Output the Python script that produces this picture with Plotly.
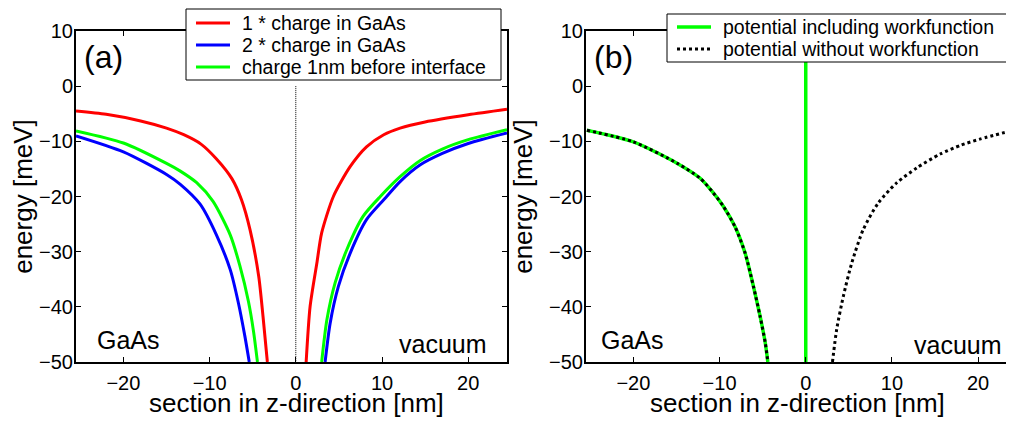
import plotly.graph_objects as go

# ---------------- data (panel a) ----------------
red_left_x = [-25.5, -22, -18, -15, -13, -11, -9.2, -7.4, -6.3, -5.3, -4.3, -3.8, -3.3]
red_left_y = [-4.5, -5.1, -6.3, -7.6, -8.8, -10.5, -13.2, -16.8, -20.6, -26.1, -34.5, -41.8, -50]
red_right_x = [1.2, 1.66, 2.44, 3.0, 4.36, 6.3, 8.2, 10.2, 12.1, 15, 20, 24.5]
red_right_y = [-50, -39.9, -32.1, -26.6, -20.0, -14.6, -11.0, -8.8, -7.6, -6.5, -5.2, -4.2]

blue_left_x = [-25.5, -20, -15, -13.4, -11.1, -9.2, -7.6, -6.66, -5.9, -5.4]
blue_left_y = [-9.0, -11.9, -16.0, -17.8, -21.4, -27.0, -33.3, -39.3, -45.4, -50]
blue_right_x = [3.4, 3.98, 4.94, 6.3, 8.2, 10.2, 12.1, 14.4, 17, 20, 24.5]
blue_right_y = [-50, -43.0, -36.3, -30.3, -24.2, -20.6, -17.3, -14.3, -12.2, -10.4, -8.5]

green_left_x = [-25.5, -20, -15, -13.4, -11.5, -9.6, -7.6, -6.5, -5.5, -4.9, -4.45]
green_left_y = [-8.1, -10.3, -14.0, -15.4, -17.5, -20.9, -27.0, -32.5, -39.0, -44.5, -50]
green_right_x = [3.0, 3.6, 4.55, 5.9, 7.8, 9.8, 12.1, 14.4, 17, 20, 24.5]
green_right_y = [-50, -42.4, -35.7, -29.7, -23.6, -20.0, -16.4, -13.5, -11.4, -9.7, -7.9]

interface_x = [0, 0]
interface_y = [0, -50]

# ---------------- data (panel b) ----------------
wf_left_x = [-25.4, -20, -14.9, -12.25, -10.7, -9.55, -8.2, -7.03, -6.07, -5.3, -4.7, -4.4]
wf_left_y = [-8.0, -10.1, -14.0, -16.7, -19.4, -21.8, -25.5, -30.3, -36.3, -41.7, -46.5, -50]
wf_step_x = [0, 0]
wf_step_y = [-60, 60]
nowf_right_x = [3.1, 3.6, 4.36, 5.33, 6.67, 8.4, 10.5, 12.9, 15.6, 18, 20.2, 24.05]
nowf_right_y = [-50, -44.0, -38.1, -32.1, -26.0, -21.2, -17.6, -14.8, -12.3, -10.7, -9.6, -8.0]

x_ticks = [-20, -10, 0, 10, 20]
y_ticks = [-50, -40, -30, -20, -10, 0, 10]

legend_a_names = ["1 * charge in GaAs", "2 * charge in GaAs", "charge 1nm before interface"]
legend_b_names = ["potential including workfunction", "potential without workfunction"]

FONT = "Liberation Sans, Arial, sans-serif"
RED, BLUE, GREEN = "#ff0000", "#0000ff", "#00ff00"

# The page body has an 8px default margin: the figure is laid out in screen
# pixels and shifted back by that offset.
OFF = 8
W, H = 1014 - OFF, 421 - OFF
ml = 76 - OFF
mt = 31 - OFF
mb = H - (362 - OFF)
mr = W - (1013 - OFF)
pw = W - ml - mr
ph = H - mt - mb


def px_x(p):  # screen pixel -> paper x
    return (p - OFF - ml) / pw


def px_y(p):  # screen pixel -> paper y
    return (H - mb - (p - OFF)) / ph


fig = go.Figure()


def joined(xl, yl, xr, yr):
    return xl + [None] + xr, yl + [None] + yr


LS = dict(shape="spline", smoothing=0.7)

x, y = joined(red_left_x, red_left_y, red_right_x, red_right_y)
fig.add_trace(go.Scatter(x=x, y=y, mode="lines", line=dict(color=RED, width=3, **LS),
                         name=legend_a_names[0], xaxis="x", yaxis="y"))
x, y = joined(blue_left_x, blue_left_y, blue_right_x, blue_right_y)
fig.add_trace(go.Scatter(x=x, y=y, mode="lines", line=dict(color=BLUE, width=3, **LS),
                         name=legend_a_names[1], xaxis="x", yaxis="y"))
x, y = joined(green_left_x, green_left_y, green_right_x, green_right_y)
fig.add_trace(go.Scatter(x=x, y=y, mode="lines", line=dict(color=GREEN, width=3, **LS),
                         name=legend_a_names[2], xaxis="x", yaxis="y"))
fig.add_trace(go.Scatter(x=interface_x, y=interface_y, mode="lines",
                         line=dict(color="black", width=1, dash="1px,1px"),
                         name="interface", xaxis="x", yaxis="y"))

x, y = joined(wf_left_x, wf_left_y, wf_step_x, wf_step_y)
fig.add_trace(go.Scatter(x=x, y=y, mode="lines", line=dict(color=GREEN, width=3.5, **LS),
                         name=legend_b_names[0], xaxis="x2", yaxis="y2"))
x, y = joined(wf_left_x, wf_left_y, nowf_right_x, nowf_right_y)
fig.add_trace(go.Scatter(x=x, y=y, mode="lines",
                         line=dict(color="black", width=3, dash="dot", **LS),
                         name=legend_b_names[1], xaxis="x2", yaxis="y2"))

axis_common = dict(
    showline=True, linecolor="black", linewidth=2, mirror="ticks",
    ticks="inside", ticklen=5, tickwidth=1, tickcolor="black",
    showgrid=False, zeroline=False,
    tickfont=dict(family=FONT, size=20, color="black"),
)
ytitle = dict(text="energy [meV]", font=dict(family=FONT, size=26, color="black"), standoff=9)

fig.update_layout(
    width=W, height=H,
    margin=dict(l=ml, r=mr, t=mt, b=mb, autoexpand=False),
    paper_bgcolor="white", plot_bgcolor="white",
    showlegend=False,
    xaxis=dict(domain=[0, px_x(507)], range=[-25.5, 24.5], tickvals=x_ticks,
               anchor="y", ticklabelstandoff=2, **axis_common),
    yaxis=dict(domain=[0, 1], range=[-50, 10], tickvals=y_ticks, title=ytitle,
               anchor="x", ticklabelstandoff=-3, **axis_common),
    xaxis2=dict(domain=[px_x(586), 1], range=[-25.5, 24.05], tickvals=x_ticks,
                anchor="y2", ticklabelstandoff=2, **axis_common),
    yaxis2=dict(domain=[0, 1], range=[-50, 10], tickvals=y_ticks, title=ytitle,
                anchor="x2", ticklabelstandoff=-3, **axis_common),
)


def label(text, x, y, xref, yref, size, xanchor):
    fig.add_annotation(text=text, x=x, y=y, xref=xref, yref=yref, showarrow=False,
                       xanchor=xanchor, yanchor="middle",
                       font=dict(family=FONT, size=size, color="black"))


label("(a)", -22.35, 5.3, "x", "y", 32, "center")
label("GaAs", -23.3, -46.1, "x", "y", 25, "left")
label("vacuum", 22.4, -46.7, "x", "y", 25, "right")
label("(b)", -22.33, 5.2, "x2", "y2", 32, "center")
label("GaAs", -23.95, -46.1, "x2", "y2", 25, "left")
label("vacuum", 22.98, -47.0, "x2", "y2", 25, "right")

# x-axis titles
label("section in z-direction [nm]", px_x(296), px_y(403), "paper", "paper", 26, "center")
label("section in z-direction [nm]", px_x(797), px_y(403), "paper", "paper", 26, "center")


# ---------------- legends (boxes placed in screen pixels) ----------------
def legend_box(x0, y0, x1, y1, rows, names, styles):
    fig.add_shape(type="rect", xref="paper", yref="paper",
                  x0=px_x(x0), x1=px_x(x1), y0=px_y(y0), y1=px_y(y1),
                  line=dict(color="black", width=1), fillcolor="white", layer="above")
    for ry, name, st in zip(rows, names, styles):
        fig.add_shape(type="line", xref="paper", yref="paper",
                      x0=px_x(x0 + 10), x1=px_x(x0 + 44), y0=px_y(ry), y1=px_y(ry),
                      line=st, layer="above")
        fig.add_annotation(text=name, x=px_x(x0 + 54), y=px_y(ry), xref="paper", yref="paper",
                           showarrow=False, xanchor="left", yanchor="middle",
                           font=dict(family=FONT, size=19.5, color="black"))


legend_box(186, 9, 501, 80, [23, 45, 67], legend_a_names,
           [dict(color=RED, width=3), dict(color=BLUE, width=3), dict(color=GREEN, width=3)])
legend_box(667, 14, 1013, 62, [27, 49], legend_b_names,
           [dict(color=GREEN, width=3.5), dict(color="black", width=3, dash="dot")])

fig.write_html("out.html")
